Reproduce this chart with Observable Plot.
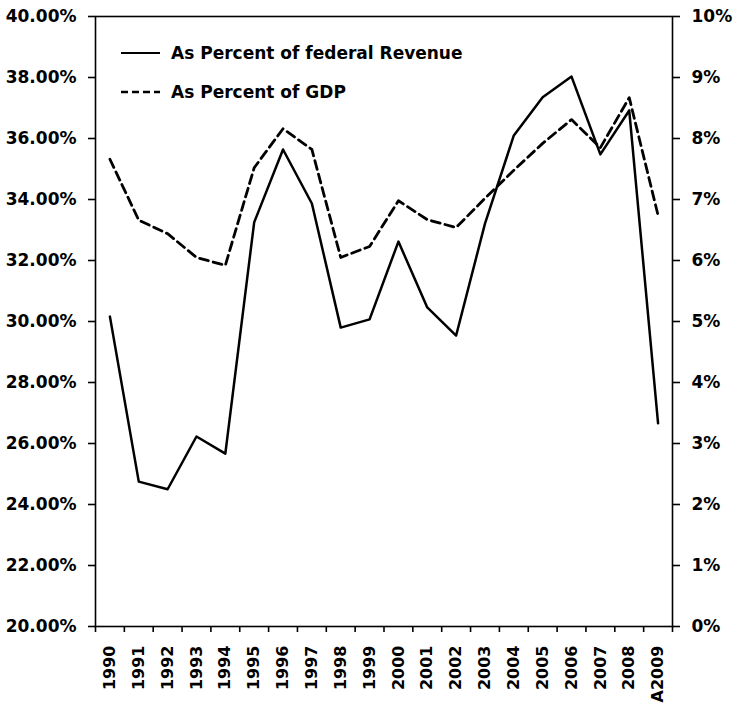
<!DOCTYPE html>
<html>
<head>
<meta charset="utf-8">
<script src="https://cdn.jsdelivr.net/npm/d3@7"></script>
<script src="https://cdn.jsdelivr.net/npm/@observablehq/plot@0.6"></script>
<style>
  html, body { margin: 0; padding: 0; background: #fff; }
  #wrap { position: relative; width: 733px; height: 708px; }
  #legend { position: absolute; left: 0; top: 0; pointer-events: none; }
</style>
</head>
<body>
<div id="wrap"></div>
<script>
// Categories (x axis)
const years = ["1990","1991","1992","1993","1994","1995","1996","1997","1998","1999",
               "2000","2001","2002","2003","2004","2005","2006","2007","2008","A2009"];
// As Percent of federal Revenue (left axis, %)
const revenuePct = [30.16, 24.75, 24.50, 26.23, 25.67, 33.25, 35.64, 33.87, 29.80, 30.07,
                    32.62, 30.46, 29.54, 33.21, 36.10, 37.35, 38.03, 35.48, 36.92, 26.66];
// As Percent of GDP (right axis, %)
const gdpPct = [7.66, 6.66, 6.44, 6.05, 5.92, 7.52, 8.16, 7.82, 6.05, 6.23,
                6.98, 6.67, 6.54, 7.02, 7.48, 7.92, 8.31, 7.85, 8.67, 6.74];
// Axis ticks
const leftTicks = [20, 22, 24, 26, 28, 30, 32, 34, 36, 38, 40];
const rightTicks = [0, 1, 2, 3, 4, 5, 6, 7, 8, 9, 10];
const seriesNames = ["As Percent of federal Revenue", "As Percent of GDP"];

const data = years.map((year, i) => ({i, year, revenue: revenuePct[i], gdp: gdpPct[i]}));
// right axis (0..10%) mapped onto left scale (20..40%)
const toLeft = v => 20 + v * 2;

const chart = Plot.plot({
  width: 733,
  height: 708,
  marginLeft: 95,
  marginRight: 61,
  marginTop: 16,
  marginBottom: 82,
  x: {domain: [0, years.length]},
  y: {domain: [20, 40]},
  style: {fontFamily: "'DejaVu Sans', sans-serif", fontWeight: "bold", fontSize: "17px", color: "#000", background: "#fff"},
  marks: [
    Plot.frame({stroke: "#000", strokeWidth: 1.6}),
    Plot.axisY({ticks: leftTicks, tickFormat: d => d.toFixed(2) + "%", tickSize: 7, tickPadding: 12, label: null, strokeWidth: 1.6}),
    Plot.axisY({anchor: "right", ticks: rightTicks.map(toLeft), tickFormat: d => Math.round((d - 20) / 2) + "%", tickSize: 7, tickPadding: 12, label: null, strokeWidth: 1.6}),
    Plot.axisX({ticks: d3.range(0, years.length + 1), tickFormat: () => "", tickSize: 6, label: null, strokeWidth: 1.6}),
    Plot.axisX({ticks: years.map((d, i) => i + 0.5), tickFormat: d => years[Math.floor(d)], tickSize: 0, tickPadding: 19, tickRotate: -90, fontSize: 16, label: null}),
    Plot.lineY(data, {x: d => d.i + 0.5, y: "revenue", stroke: "#000", strokeWidth: 2.5}),
    Plot.lineY(data, {x: d => d.i + 0.5, y: d => toLeft(d.gdp), stroke: "#000", strokeWidth: 2.8, strokeDasharray: "9,5"})
  ]
});
document.getElementById("wrap").appendChild(chart);

// Legend overlay (inside plot area, top-left)
const ns = "http://www.w3.org/2000/svg";
const lg = document.createElementNS(ns, "svg");
lg.setAttribute("id", "legend");
lg.setAttribute("width", 733);
lg.setAttribute("height", 708);
const items = [
  {name: seriesNames[0], y: 53, dash: null, sw: 2.2},
  {name: seriesNames[1], y: 92, dash: "7,4", sw: 2.5}
];
for (const it of items) {
  const l = document.createElementNS(ns, "line");
  l.setAttribute("x1", 121); l.setAttribute("x2", 160);
  l.setAttribute("y1", it.y); l.setAttribute("y2", it.y);
  l.setAttribute("stroke", "#000"); l.setAttribute("stroke-width", it.sw);
  if (it.dash) l.setAttribute("stroke-dasharray", it.dash);
  lg.appendChild(l);
  const t = document.createElementNS(ns, "text");
  t.setAttribute("x", 171); t.setAttribute("y", it.y);
  t.setAttribute("dy", "0.35em");
  t.setAttribute("font-family", "'DejaVu Sans', sans-serif");
  t.setAttribute("font-weight", "bold");
  t.setAttribute("font-size", "17px");
  t.textContent = it.name;
  lg.appendChild(t);
}
document.getElementById("wrap").appendChild(lg);
</script>
</body>
</html>
